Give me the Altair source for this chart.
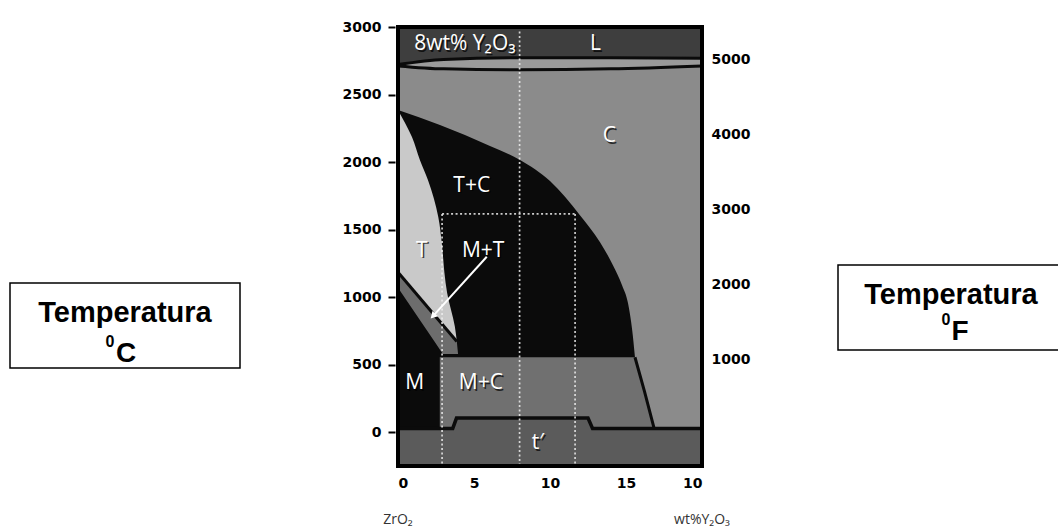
import altair as alt
import pandas as pd

# ---------------- data ----------------
x_ticks = [0, 5, 10, 15, 20]
x_tick_labels = ["0", "5", "10", "15", "10"]
y_ticks_c = [0, 500, 1000, 1500, 2000, 2500, 3000]
y_ticks_f = [1000, 2000, 3000, 4000, 5000]

# liquidus lens (L / L+C / C)
lens_x = [0, 3, 8, 14, 20]
liq_upper = [2722, 2760, 2772, 2772, 2768]
liq_lower = [2712, 2690, 2683, 2690, 2712]

# boundary of C with the T+C / M+T field
tc_x = [0, 2.76, 6.05, 8.03, 10.0, 11.97, 13.29, 14.14, 14.74, 15.13, 15.46, 15.59]
tc_y = [2385, 2274, 2119, 2015, 1859, 1607, 1407, 1237, 1089, 956, 704, 556]

# T field
t_y = [2384, 2185, 2015, 1867, 1594, 1400, 1277, 1184, 1033, 782, 672]
t_left = [0, 0, 0, 0, 0, 0, 0, 0, 1.14, 3.04, 3.87]
t_right = [0, 0.92, 1.44, 1.97, 2.65, 2.88, 2.98, 3.05, 3.23, 3.74, 3.87]

# M+T sliver
mt_y = [1184, 1070, 672, 580]
mt_left = [0, 0, 2.4, 2.95]
mt_right = [0, 0.86, 3.87, 3.95]

# T / M+T boundary line
tm_x = [0, 3.87]
tm_y = [1184, 672]

# M+C field
mc_y = [555, 300, 28]
mc_left = [2.75, 2.75, 2.75]
mc_right = [15.59, 16.22, 16.85]

# t' field top (stepped)
tp_x = [0, 3.6, 3.85, 12.5, 12.8, 20]
tp_y = [28, 28, 105, 105, 28, 28]

# dotted guide lines
dash_x = [8, 2.9, 11.65, 2.9]
dash_x2 = [8, 2.9, 11.65, 11.65]
dash_y = [3000, 1616, 1616, 1616]
dash_y2 = [-250, -250, -250, 1616]

# arrow M+T
arrow_x, arrow_x2 = [5.84], [2.3]
arrow_y, arrow_y2 = [1299], [860]

# field labels
lab_text = ["8wt% Y\u2082O\u2083", "L", "C", "T+C", "T", "M+T", "M", "M+C", "t\u2032"]
lab_x = [4.4, 13.0, 13.9, 4.85, 1.57, 5.6, 1.1, 5.45, 9.2]
lab_y = [2827, 2827, 2148, 1779, 1299, 1299, 317, 317, -125]

# ---------------- styles ----------------
C_L = "#3e3e3e"
C_LENS = "#9a9a9a"
C_C = "#8b8b8b"
C_BLACK = "#0b0b0b"
C_T = "#c9c9c9"
C_MT = "#6d6d6d"
C_MC = "#707070"
C_TP = "#5b5b5b"

W, H = 304, 439
PAD = {"left": 398, "top": 27, "right": 356, "bottom": 63}

label_expr = "[" + ",".join(f"'{l}'" for l in x_tick_labels) + "][indexof(" + str(x_ticks) + ", datum.value)]"

xs = alt.Scale(domain=[0, 20], nice=False, zero=False)
ys = alt.Scale(domain=[-250, 3000], nice=False, zero=False)
x_axis = alt.Axis(values=x_ticks, labelExpr=label_expr, ticks=False, domain=False, grid=False,
                  labelFont="DejaVu Sans", labelFontWeight="bold", labelFontSize=14,
                  labelColor="black", labelPadding=10, title=None)
y_axis = alt.Axis(values=y_ticks_c, format="d", ticks=True, tickSize=7, tickWidth=2, tickColor="black",
                  offset=3, domain=False, grid=False, labelFont="DejaVu Sans",
                  labelFontWeight="bold", labelFontSize=14, labelColor="black",
                  labelPadding=7, title=None)


def X(f):
    return alt.X(f, type="quantitative", scale=xs, axis=x_axis)


def Y(f):
    return alt.Y(f, type="quantitative", scale=ys, axis=y_axis)


one = pd.DataFrame({"x0": [0], "x1": [20], "y0": [-250], "y1": [3000]})
lens_df = pd.DataFrame({"x": lens_x, "upper": liq_upper, "lower": liq_lower, "top": 3000})
tc_df = pd.DataFrame({"x": tc_x, "y": tc_y, "base": 0})
t_df = pd.DataFrame({"y": t_y, "left": t_left, "right": t_right})
mt_df = pd.DataFrame({"y": mt_y, "left": mt_left, "right": mt_right})
tm_df = pd.DataFrame({"x": tm_x, "y": tm_y})
mc_df = pd.DataFrame({"y": mc_y, "left": mc_left, "right": mc_right})
tp_df = pd.DataFrame({"x": tp_x, "y": tp_y, "bottom": -250})
dash_df = pd.DataFrame({"x": dash_x, "x2": dash_x2, "y": dash_y, "y2": dash_y2})
arrow_df = pd.DataFrame({"x": arrow_x, "x2": arrow_x2, "y": arrow_y, "y2": arrow_y2})
lab_df = pd.DataFrame({"t": lab_text, "x": lab_x, "y": lab_y})

layers = []
layers.append(alt.Chart(one).mark_rect(color=C_C).encode(x=X("x0"), x2="x1", y=Y("y0"), y2="y1"))
layers.append(alt.Chart(lens_df).mark_area(color=C_L, interpolate="monotone").encode(x=X("x"), y=Y("upper"), y2="top"))
layers.append(alt.Chart(lens_df).mark_area(color=C_LENS, interpolate="monotone").encode(x=X("x"), y=Y("lower"), y2="upper"))
layers.append(alt.Chart(lens_df).mark_line(color=C_BLACK, strokeWidth=3, interpolate="monotone").encode(x=X("x"), y=Y("upper")))
layers.append(alt.Chart(lens_df).mark_line(color=C_BLACK, strokeWidth=3, interpolate="monotone").encode(x=X("x"), y=Y("lower")))
layers.append(alt.Chart(tc_df).mark_area(color=C_BLACK, interpolate="monotone").encode(x=X("x"), y=Y("y"), y2="base"))
layers.append(alt.Chart(t_df).mark_area(color=C_T, orient="horizontal", interpolate="monotone")
              .encode(y=Y("y"), x=X("right"), x2="left"))
layers.append(alt.Chart(mt_df).mark_area(color=C_MT, orient="horizontal").encode(y=Y("y"), x=X("right"), x2="left"))
layers.append(alt.Chart(tm_df).mark_line(color=C_BLACK, strokeWidth=3).encode(x=X("x"), y=Y("y")))
layers.append(alt.Chart(mc_df).mark_area(color=C_MC, orient="horizontal").encode(y=Y("y"), x=X("right"), x2="left"))
layers.append(alt.Chart(mc_df).mark_line(color=C_BLACK, strokeWidth=3).encode(x=X("right"), y=Y("y")))
layers.append(alt.Chart(tp_df).mark_area(color=C_TP).encode(x=X("x"), y=Y("y"), y2="bottom"))
layers.append(alt.Chart(tp_df).mark_line(color=C_BLACK, strokeWidth=3.5).encode(x=X("x"), y=Y("y")))
layers.append(alt.Chart(dash_df).mark_rule(color="#eeeeee", strokeDash=[2, 2.5], strokeWidth=1.7, opacity=0.85)
              .encode(x=X("x"), x2="x2", y=Y("y"), y2="y2"))
layers.append(alt.Chart(arrow_df).mark_rule(color="white", strokeWidth=2)
              .encode(x=X("x"), x2="x2", y=Y("y"), y2="y2"))
layers.append(alt.Chart(arrow_df).mark_point(shape="triangle-up", filled=True, size=60, angle=223,
                                             color="white", opacity=1)
              .encode(x=X("x2"), y=Y("y2")))
layers.append(alt.Chart(lab_df).mark_text(font="Open Sans", fontSize=21, color="black", opacity=0.7,
                                          baseline="alphabetic", align="center", dx=1.5, dy=1.5)
              .encode(x=X("x"), y=Y("y"), text="t:N"))
layers.append(alt.Chart(lab_df).mark_text(font="Open Sans", fontSize=21, color="white",
                                          baseline="alphabetic", align="center")
              .encode(x=X("x"), y=Y("y"), text="t:N"))
# frame of the diagram, drawn on top
layers.append(alt.Chart(one).mark_rect(fill="white", fillOpacity=0, stroke="black", strokeWidth=4)
              .encode(x=X("x0"), x2="x1", y=Y("y0"), y2="y1"))

# axis end captions
cap_df = pd.DataFrame({"t": ["ZrO\u2082", "wt%Y\u2082O\u2083"], "x": [0, 20]})
layers.append(alt.Chart(cap_df).mark_text(font="Open Sans", fontSize=14, color="#333333",
                                          baseline="alphabetic", align="center")
              .encode(x=X("x"), y=alt.value(497), text="t:N"))

# side boxes (annotations)
dummy = pd.DataFrame({"a": [0]})
box_style = dict(fill="white", stroke="black", strokeWidth=1.5)
layers.append(alt.Chart(dummy).mark_rect(**box_style).encode(
    x=alt.value(-388), x2=alt.value(-158), y=alt.value(256), y2=alt.value(341)))
layers.append(alt.Chart(dummy).mark_rect(**box_style).encode(
    x=alt.value(440), x2=alt.value(664), y=alt.value(238), y2=alt.value(323)))

box_text = dict(font="Liberation Sans", fontWeight="bold", color="black", baseline="alphabetic", align="center")
side_texts = [
    ("Temperatura", -273, 295, 29),
    ("C", -272, 335, 28),
    ("0", -288, 320, 16),
    ("Temperatura", 553, 277, 29),
    ("F", 562, 313, 28),
    ("0", 548, 298, 16),
]
for txt, px, py, fs in side_texts:
    layers.append(alt.Chart(dummy).mark_text(fontSize=fs, text=txt, **box_text).encode(
        x=alt.value(px), y=alt.value(py)))

celsius = alt.layer(*layers)

f_df = pd.DataFrame({"f": y_ticks_f})
fahr = alt.Chart(f_df).mark_point(opacity=0).encode(
    y=alt.Y("f:Q", scale=alt.Scale(domain=[-418, 5432], nice=False, zero=False),
            axis=alt.Axis(orient="right", values=y_ticks_f, format="d", ticks=False, domain=False,
                          grid=False, labelFont="DejaVu Sans", labelFontWeight="bold", labelFontSize=14,
                          labelColor="black", labelPadding=9, title=None)))

chart = (alt.layer(celsius, fahr)
         .resolve_scale(y="independent")
         .properties(width=W, height=H, padding=PAD, autosize=alt.AutoSizeParams(type="none"))
         .configure_view(stroke="transparent")
         .configure(background="white"))

chart.save("out.html", embed_options={"renderer": "svg", "actions": False})
